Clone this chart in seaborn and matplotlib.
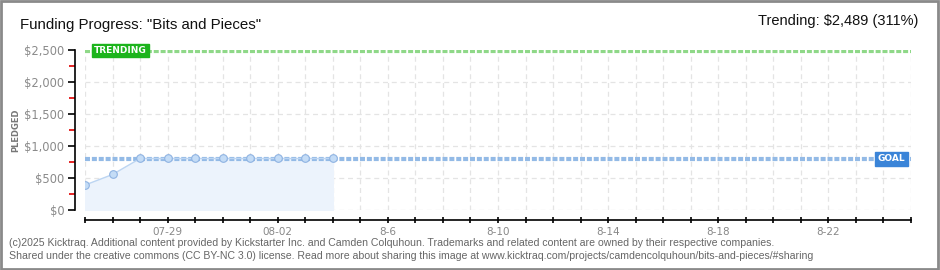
import matplotlib
matplotlib.use("Agg")
import matplotlib.pyplot as plt
import matplotlib.dates as mdates
from matplotlib.patches import Rectangle
from matplotlib.ticker import MultipleLocator, FuncFormatter
import seaborn as sns
import pandas as pd

# ---- data ----
dates = ["2025-07-26", "2025-07-27", "2025-07-28", "2025-07-29", "2025-07-30",
         "2025-07-31", "2025-08-01", "2025-08-02", "2025-08-03", "2025-08-04"]
pledged = [390, 555, 805, 805, 805, 805, 805, 805, 805, 805]
goal = 800
trending = 2489
x_start, x_end = "2025-07-26", "2025-08-25"
tick_label_dates = ["2025-07-29", "2025-08-02", "2025-08-06", "2025-08-10",
                    "2025-08-14", "2025-08-18", "2025-08-22"]
tick_label_texts = ["07-29", "08-02", "8-6", "8-10", "8-14", "8-18", "8-22"]
title = 'Funding Progress: "Bits and Pieces"'
trend_text = "Trending: \\$2,489 (311%)"
footer1 = ("(c)2025 Kicktraq. Additional content provided by Kickstarter Inc. and Camden Colquhoun. "
           "Trademarks and related content are owned by their respective companies.")
footer2 = ("Shared under the creative commons (CC BY-NC 3.0) license. Read more about sharing this image at "
           "www.kicktraq.com/projects/camdencolquhoun/bits-and-pieces/#sharing")

df = pd.DataFrame({"date": pd.to_datetime(dates), "pledged": pledged})

sns.set_theme(style="white")
FONT = ["Liberation Sans", "DejaVu Sans"]
plt.rcParams["font.family"] = FONT

fig = plt.figure(figsize=(9.4, 2.7), dpi=100)
ax = fig.add_axes([85 / 940, 60 / 270, 826 / 940, 160 / 270])

x0, x1 = pd.Timestamp(x_start), pd.Timestamp(x_end)

# fill under data
ax.fill_between(df["date"], 0, df["pledged"], color="#ecf3fc", zorder=1)

# goal line
ax.plot([x0, x1], [goal, goal], color="#93bae6", lw=3, ls=(0, (1.2, 0.45)), zorder=2)
# trending line
ax.plot([x0, x1], [trending, trending], color="#8fd888", lw=3, ls=(0, (1.2, 0.45)), zorder=2)

sns.lineplot(data=df, x="date", y="pledged", ax=ax, color="#bcd5f2", lw=1,
             marker="o", markersize=5.5, markerfacecolor="#c4dcf6",
             markeredgecolor="#8fb3e2", markeredgewidth=0.8, zorder=4)

ax.set_xlim(x0, x1)
ax.set_ylim(0, 2500)

# grid
ax.xaxis.set_major_locator(mdates.DayLocator())
ax.grid(True, axis="x", color="#e4e4e4", ls=(0, (4, 3)), lw=0.9)
for yv in [0, 500, 1000, 1500, 2000]:
    ax.axhline(yv, color="#e4e4e4", ls=(0, (4, 3)), lw=0.9, zorder=0)

# spines
sns.despine(ax=ax, top=True, right=True, offset=7)
for s in ["left", "bottom"]:
    ax.spines[s].set_color("black")
    ax.spines[s].set_linewidth(1.2)

# y ticks
ax.yaxis.set_major_locator(MultipleLocator(500))
ax.yaxis.set_minor_locator(MultipleLocator(250))
ax.yaxis.set_major_formatter(FuncFormatter(lambda v, p: "${:,.0f}".format(v)))
ax.tick_params(axis="y", which="major", length=5, width=1.2, color="black",
               labelsize=8.3, labelcolor="#8a8a8a", left=True, pad=3)
ax.tick_params(axis="y", which="minor", length=4, width=1.2, color="#e00000", left=True)
for t in ax.get_yticklabels():
    t.set_family(["DejaVu Sans"])
    t.set_fontsize(8.3)

# x ticks: daily ticks, labels every 4 days
tick_days = pd.date_range(x0, x1, freq="D")
ax.set_xticks(tick_days)
lab_set = dict(zip(pd.to_datetime(tick_label_dates), tick_label_texts))
ax.set_xticklabels([lab_set.get(d, "") for d in tick_days], family=["DejaVu Sans"])
ax.tick_params(axis="x", which="major", length=5, width=1.2, color="black",
               labelsize=7.5, labelcolor="#888888", bottom=True, pad=3, direction="inout")
ax.set_xlabel("")
ax.set_ylabel("")
fig.text(16 / 940, 1 - 130 / 270, "PLEDGED", fontsize=6, color="#777777", rotation=90,
         family=["DejaVu Sans"], fontweight="bold", va="center", ha="center")

# labels on lines
ax.text(pd.Timestamp("2025-07-26 08:00"), trending, "TRENDING", fontsize=6.5, color="white",
        fontweight="bold", family=["DejaVu Sans"], va="center", ha="left", zorder=6,
        bbox=dict(boxstyle="square,pad=0.25", fc="#1db41d", ec="#1db41d"))
ax.text(pd.Timestamp("2025-08-24 19:00"), goal, "GOAL", fontsize=6.5, color="white",
        fontweight="bold", family=["DejaVu Sans"], va="center", ha="right", zorder=6,
        bbox=dict(boxstyle="square,pad=0.25", fc="#3a84d8", ec="#3a84d8"))

# titles
fig.text(20 / 940, 1 - 25 / 270, title, fontsize=10.8, color="#111111", va="center", ha="left")
fig.text(918 / 940, 1 - 21 / 270, trend_text, fontsize=10.5, color="#111111", va="center", ha="right")

# footer
fig.text(9 / 940, 1 - 243 / 270, footer1, fontsize=7.6, color="#666666", va="center", ha="left")
fig.text(9 / 940, 1 - 256 / 270, footer2, fontsize=7.6, color="#666666", va="center", ha="left")

# border
fig.patches.append(Rectangle((0.001, 0.002), 0.997, 0.995, transform=fig.transFigure,
                             fill=False, ec="#8a8a8a", lw=2))

fig.savefig("out.png", dpi=100)
